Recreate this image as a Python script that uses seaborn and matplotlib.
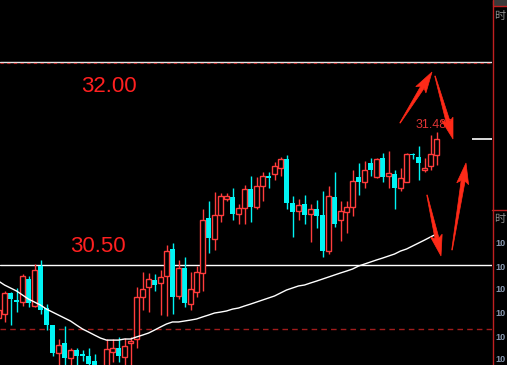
import matplotlib
matplotlib.use("Agg")
import matplotlib.pyplot as plt
from matplotlib.patches import Polygon, Rectangle
from matplotlib.transforms import offset_copy
import numpy as np
import seaborn as sns

# ---------------- data ----------------
idx = list(range(-1, 73))
opens = [30.11, 30.14, 30.29, 30.24, 30.23, 30.40, 30.20, 30.49, 30.18, 30.06,
         29.85, 29.92, 29.81, 29.87, 29.84, 29.83, 29.79, 29.65, 29.71, 29.86,
         29.89, 29.82, 29.92, 29.95, 30.26, 30.34, 30.39, 30.37, 30.42, 30.62,
         30.27, 30.48, 30.21, 30.30, 30.44, 30.85, 30.69, 30.87, 30.99, 31.00,
         30.88, 30.92, 31.06, 30.93, 31.08, 31.16, 31.17, 31.22, 31.28, 30.96,
         30.90, 30.95, 30.88, 30.91, 30.87, 30.60, 31.00, 30.83, 30.89, 30.93,
         31.15, 31.11, 31.25, 31.15, 31.29, 31.16, 31.17, 31.07, 31.11, 31.32,
         31.30, 31.20, 31.23, 31.31]
highs = [30.20, 30.31, 30.30, 30.33, 30.43, 30.42, 30.51, 30.54, 30.21, 30.06,
         29.95, 30.05, 29.89, 29.89, 29.87, 29.89, 29.84, 29.72, 29.95, 29.95,
         29.97, 29.96, 29.97, 30.34, 30.45, 30.44, 30.43, 30.46, 30.65, 30.66,
         30.54, 30.56, 30.45, 30.49, 30.91, 30.97, 31.04, 31.03, 31.03, 31.07,
         30.95, 31.09, 31.16, 31.15, 31.19, 31.19, 31.26, 31.30, 31.31, 31.01,
         30.99, 31.02, 30.95, 30.98, 31.05, 31.08, 31.19, 30.97, 30.97, 31.20,
         31.25, 31.27, 31.29, 31.29, 31.33, 31.34, 31.20, 31.22, 31.33, 31.33,
         31.38, 31.29, 31.46, 31.48]
lows = [30.08, 30.08, 30.06, 30.15, 30.20, 30.19, 30.19, 30.14, 30.02, 29.83,
        29.74, 29.74, 29.74, 29.74, 29.79, 29.72, 29.71, 29.61, 29.66, 29.78,
        29.78, 29.75, 29.75, 29.89, 30.17, 30.15, 30.31, 30.13, 30.12, 30.14,
        30.25, 30.19, 30.17, 30.26, 30.31, 30.59, 30.61, 30.82, 30.97, 30.83,
        30.80, 30.80, 30.82, 30.91, 30.97, 31.07, 31.13, 31.16, 30.91, 30.71,
        30.83, 30.80, 30.67, 30.77, 30.56, 30.58, 30.78, 30.68, 30.74, 30.86,
        31.02, 31.07, 31.16, 31.14, 31.11, 31.07, 30.91, 31.05, 31.11, 31.28,
        31.13, 31.19, 31.20, 31.24]
closes = [30.17, 30.29, 30.25, 30.23, 30.42, 30.22, 30.46, 30.17, 30.06, 29.85,
          29.91, 29.81, 29.87, 29.83, 29.83, 29.77, 29.74, 29.69, 29.88, 29.89,
          29.83, 29.90, 29.94, 30.26, 30.32, 30.40, 30.35, 30.41, 30.60, 30.26,
          30.48, 30.22, 30.32, 30.45, 30.83, 30.70, 30.87, 31.01, 31.01, 30.88,
          30.92, 31.06, 30.93, 31.08, 31.16, 31.14, 31.23, 31.28, 30.96, 30.89,
          30.94, 30.87, 30.91, 30.86, 30.60, 31.01, 30.80, 30.90, 30.93, 31.12,
          31.11, 31.20, 31.20, 31.28, 31.15, 31.18, 31.07, 31.14, 31.32, 31.31,
          31.25, 31.22, 31.32, 31.43]
ma = [30.381, 30.352, 30.330, 30.308, 30.278, 30.248, 30.226, 30.204, 30.174, 30.152,
      30.130, 30.108, 30.086, 30.056, 30.027, 30.005, 29.982, 29.960, 29.945, 29.945,
      29.945, 29.953, 29.953, 29.968, 29.982, 29.997, 30.019, 30.042, 30.064, 30.079,
      30.079, 30.086, 30.093, 30.101, 30.116, 30.130, 30.145, 30.152, 30.160, 30.174,
      30.182, 30.197, 30.211, 30.226, 30.241, 30.256, 30.271, 30.293, 30.315, 30.330,
      30.345, 30.352, 30.367, 30.381, 30.396, 30.411, 30.426, 30.441, 30.455, 30.470,
      30.492, 30.507, 30.522, 30.537, 30.551, 30.566, 30.581, 30.603, 30.618, 30.640,
      30.662, 30.684, 30.707, 30.729]
level_lines = [32.00, 30.50]
prev_close = 30.03
level_labels = ["32.00", "30.50"]
high_label = "31.480"
side_labels = ["10", "10", "10", "10", "10", "10"]
side_title = "时"

UP = "#ff3c3c"
DOWN = "#00f4f4"

sns.set_style("dark", {"axes.facecolor": "black", "figure.facecolor": "black"})

fig = plt.figure(figsize=(5.07, 3.65), dpi=100, facecolor="black")
ax = fig.add_axes([0, 0, 492 / 507, 1])
ax.set_facecolor("black")
ax.set_xlim(-0.75, 81.25)
ax.set_ylim(29.761, 32.458)
ax.axis("off")

x = np.array(idx, dtype=float)
o = np.array(opens); h = np.array(highs); l = np.array(lows); c = np.array(closes)
up = c >= o

# level lines
ax.axhline(level_lines[0], color="#e8e8e8", lw=1, zorder=1)
below = offset_copy(ax.transData, fig=fig, x=0, y=-1, units="dots")
ax.plot([-0.75, 81.25], [level_lines[0]] * 2, color="#c02a2a", lw=0.8, ls=(0, (3, 3)),
        transform=below, zorder=1.1)
ax.axhline(level_lines[1], color="white", lw=1, zorder=1)
ax.axhline(prev_close, color="#a01c1c", lw=1, ls=(0, (4, 3)), zorder=1)

# wicks
ax.vlines(x[up], l[up], h[up], color=UP, lw=1, zorder=2)
ax.vlines(x[~up], l[~up], h[~up], color=DOWN, lw=1, zorder=2)

# bodies
mn = 0.006
dn_h = np.maximum(o[~up] - c[~up], mn)
ax.bar(x[~up], dn_h, bottom=c[~up], width=0.8, color=DOWN, lw=0, zorder=3)
up_h = np.maximum(c[up] - o[up], mn)
ax.bar(x[up], up_h, bottom=o[up], width=0.7, facecolor="black", edgecolor=UP, lw=1, zorder=3)

# moving average
sns.lineplot(x=idx, y=ma, ax=ax, color="white", lw=1, legend=False, zorder=4)
ax.axis("off")

# last price marker
ax.hlines(closes[-1], 77.9, 81.25, color="white", lw=1.2, zorder=4)

# ---------------- overlay (pixel coords) ----------------
ov = fig.add_axes([0, 0, 1, 1])
ov.set_xlim(0, 507)
ov.set_ylim(365, 0)
ov.axis("off")
ov.patch.set_alpha(0)

def arrow(tail, tip, w0=0.6, w1=4.0, hl=18, hw=12, color="#ff2a18"):
    tail = np.array(tail, float); tip = np.array(tip, float)
    d = tip - tail; d /= np.linalg.norm(d)
    n = np.array([-d[1], d[0]])
    base = tip - d * hl
    wing = base - d * 3
    pts = [tail + n * w0 / 2, base + n * w1 / 2, wing + n * hw / 2, tip,
           wing - n * hw / 2, base - n * w1 / 2, tail - n * w0 / 2]
    ov.add_patch(Polygon(pts, closed=True, facecolor=color, edgecolor=color, lw=0.5, zorder=10))

arrow((400, 123), (432, 72))
arrow((435, 76), (453, 139))
arrow((427, 195), (441, 256))
arrow((452, 250), (466, 163))

ov.text(109, 87, level_labels[0], color="#ff2020", fontsize=16, ha="center", va="center",
        family="Liberation Sans")
ov.text(98, 246, level_labels[1], color="#ff2020", fontsize=16, ha="center", va="center",
        family="Liberation Sans")
ov.text(435, 125, high_label, color="#e03535", fontsize=9, ha="center", va="center",
        family="Liberation Sans", zorder=5)

# right panel
ov.plot([492.5, 492.5], [0, 365], color="#c02020", lw=1)
ov.plot([492, 507], [210, 210], color="#c02020", lw=1)
ov.add_patch(Rectangle((493, 0), 14, 5, color="#3a3a3a"))
ov.plot([493, 507], [5.5, 5.5], color="#c02020", lw=1)
ov.text(494.5, 16, side_title, color="#909090", fontsize=8, ha="left", va="center",
        family=["Noto Sans CJK SC", "DejaVu Sans"])
ov.text(494.5, 219, side_title, color="#909090", fontsize=8, ha="left", va="center",
        family=["Noto Sans CJK SC", "DejaVu Sans"])
for yy, lab in zip([243, 267, 290, 313, 337, 360], side_labels):
    ov.text(495.5, yy, lab, color="#8898b0", fontsize=6.5, fontweight="bold", ha="left",
            va="center", family="Liberation Sans")

fig.savefig("out.png", dpi=100, facecolor="black")
